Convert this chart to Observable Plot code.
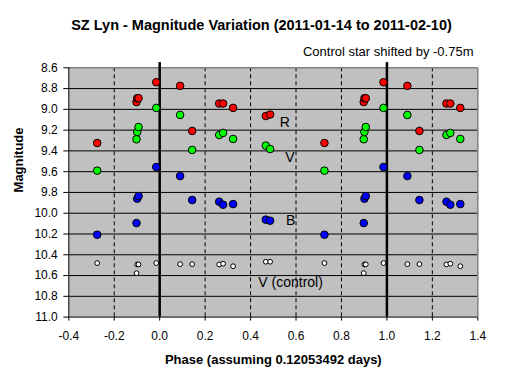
<!DOCTYPE html>
<html><head><meta charset="utf-8">
<script src="https://cdn.jsdelivr.net/npm/d3@7"></script>
<script src="https://cdn.jsdelivr.net/npm/@observablehq/plot@0.6"></script>
<style>
body{margin:0;background:#fff;}
#chart svg{display:block;}
</style>
</head><body><div id="chart"></div>
<script>
// Observations (phase folded into [0,1))
const phase = [0.090, 0.143, 0.262, 0.279, 0.323, 0.467, 0.486, 0.725, 0.898, 0.901, 0.907, 0.985];
const magR  = [8.774, 9.208, 8.944, 8.944, 8.986, 9.064, 9.050, 9.324, 8.930, 8.893, 8.893, 8.739];
const magV  = [9.054, 9.391, 9.247, 9.227, 9.285, 9.349, 9.382, 9.590, 9.288, 9.218, 9.170, 8.986];
const magB  = [9.642, 9.873, 9.889, 9.918, 9.912, 10.062, 10.072, 10.207, 10.095, 9.860, 9.835, 9.555];
const magC  = [10.490, 10.490, 10.493, 10.486, 10.510, 10.467, 10.467, 10.480, 10.577, 10.493, 10.493, 10.480];

const seriesNames = ["R", "V", "B", "V (control)"];
const xTicks = [-0.4, -0.2, 0.0, 0.2, 0.4, 0.6, 0.8, 1.0, 1.2, 1.4];
const yTicks = [8.6, 8.8, 9.0, 9.2, 9.4, 9.6, 9.8, 10.0, 10.2, 10.4, 10.6, 10.8, 11.0];
const dashedX = [-0.2, 0.2, 0.4, 0.6, 0.8, 1.2];
const epochX = [0.0, 1.0];
const gridY = [8.8, 9.0, 9.2, 9.4, 9.6, 9.8, 10.0, 10.2, 10.4, 10.6, 10.8];

const titleText = "SZ Lyn - Magnitude Variation (2011-01-14 to 2011-02-10)";
const subtitleText = "Control star shifted by -0.75m";
const xTitle = "Phase (assuming 0.12053492 days)";
const yTitle = "Magnitude";

// Phase diagram shows each observation repeated one cycle earlier/later where visible
function fold(mags) {
  const out = [];
  phase.forEach((p, i) => {
    for (const k of [-1, 0, 1]) {
      const x = p + k;
      if (x >= -0.3 && x <= 1.35) out.push({phase: x, mag: mags[i]});
    }
  });
  return out;
}
const dR = fold(magR), dV = fold(magV), dB = fold(magB), dC = fold(magC);

const fmt = d => (Math.abs(d) < 1e-9 ? 0 : d).toFixed(1);

const chart = Plot.plot({
  width: 522, height: 378,
  marginTop: 67.3, marginBottom: 61.4, marginLeft: 68.3, marginRight: 44.7,
  style: {fontFamily: "'Liberation Sans', Arial, sans-serif", fontSize: "12px", color: "#000", background: "#fff", overflow: "visible"},
  x: {domain: [-0.4, 1.4]},
  y: {domain: [8.6, 11.0], reverse: true},
  marks: [
    Plot.frame({fill: "#c0c0c0", stroke: null}),
    Plot.ruleY(gridY, {stroke: "#000", strokeWidth: 1}),
    Plot.ruleX(dashedX, {stroke: "#000", strokeWidth: 1, strokeDasharray: "4,3"}),
    Plot.ruleY([8.6], {stroke: "#808080", strokeWidth: 1.5}),
    Plot.ruleX([1.4], {stroke: "#808080", strokeWidth: 1.5}),
    Plot.ruleX(epochX, {y1: 8.55, y2: 11.0, stroke: "#000", strokeWidth: 2.5}),
    Plot.ruleX([-0.4], {stroke: "#000", strokeWidth: 1}),
    Plot.ruleY([11.0], {stroke: "#000", strokeWidth: 1}),
    Plot.axisX({ticks: xTicks, tickFormat: fmt, tickSize: 4, tickPadding: 10, label: null, fontSize: 12}),
    Plot.axisY({ticks: yTicks, tickFormat: fmt, tickSize: 5, tickPadding: 6, label: null, fontSize: 12}),
    Plot.dot(dR, {x: "phase", y: "mag", r: 3.8, fill: "#ff0000", stroke: "#000", strokeWidth: 1}),
    Plot.dot(dV, {x: "phase", y: "mag", r: 3.8, fill: "#00ff00", stroke: "#000", strokeWidth: 1}),
    Plot.dot(dB, {x: "phase", y: "mag", r: 3.8, fill: "#0000ff", stroke: "#000", strokeWidth: 1}),
    Plot.dot(dC, {x: "phase", y: "mag", r: 2.4, fill: "#ffffff", stroke: "#000", strokeWidth: 1}),
    Plot.text([seriesNames[0]], {x: 0.551, y: 9.124, text: d => d, fontSize: 14, fill: "#000"}),
    Plot.text([seriesNames[1]], {x: 0.573, y: 9.468, text: d => d, fontSize: 14, fill: "#000"}),
    Plot.text([seriesNames[2]], {x: 0.576, y: 10.069, text: d => d, fontSize: 14, fill: "#000"}),
    Plot.text([seriesNames[3]], {x: 0.576, y: 10.664, text: d => d, fontSize: 14, fill: "#000"}),
    Plot.text([titleText], {frameAnchor: "top", dx: -11.8, dy: -42.3, lineAnchor: "middle", text: d => d, fontSize: 14.5, fontWeight: "bold", fill: "#000"}),
    Plot.text([subtitleText], {frameAnchor: "top-right", dx: -4.3, dy: -16.3, textAnchor: "end", lineAnchor: "middle", text: d => d, fontSize: 13, fill: "#000"}),
    Plot.text([xTitle], {frameAnchor: "bottom", dy: 42.4, lineAnchor: "middle", text: d => d, fontSize: 13, fontWeight: "bold", fill: "#000"}),
    Plot.text([yTitle], {frameAnchor: "left", dx: -50.3, rotate: -90, lineAnchor: "middle", text: d => d, fontSize: 13, fontWeight: "bold", fill: "#000"})
  ]
});
document.getElementById("chart").appendChild(chart);
</script>
</body></html>
